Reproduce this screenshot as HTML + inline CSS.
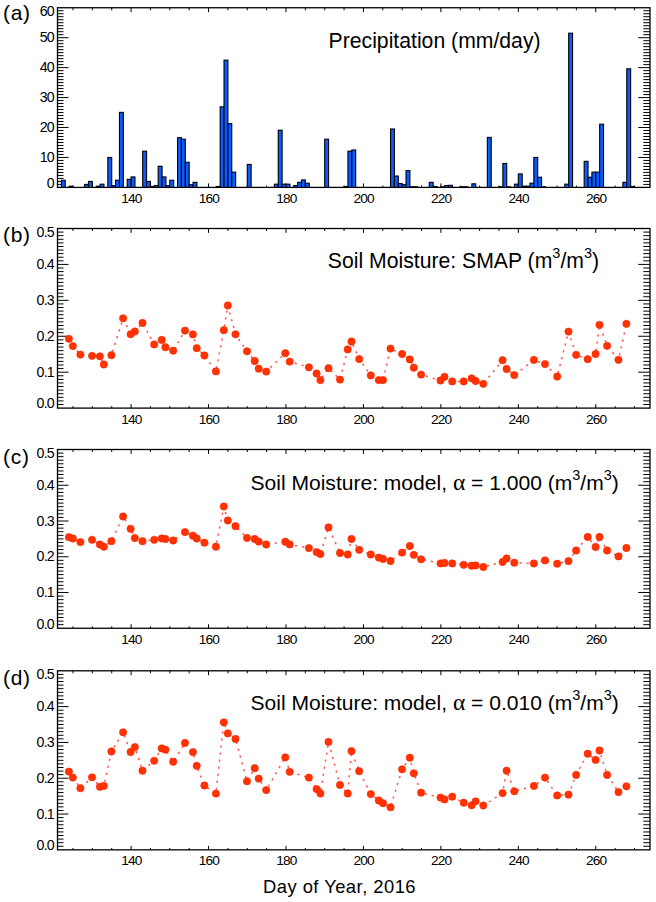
<!DOCTYPE html>
<html><head><meta charset="utf-8"><title>Precipitation and Soil Moisture</title>
<style>html,body{margin:0;padding:0;background:#fff;}svg{display:block;}text{font-family:"Liberation Sans",sans-serif;}</style>
</head><body>
<svg width="656" height="902" viewBox="0 0 656 902">
<rect width="656" height="902" fill="#fff"/>
<path d="M57.5 184.41h6M650 184.41h-6.7M57.5 181.41h6M650 181.41h-6.7M57.5 178.42h6M650 178.42h-6.7M57.5 175.42h6M650 175.42h-6.7M57.5 172.43h6M650 172.43h-6.7M57.5 169.44h6M650 169.44h-6.7M57.5 166.44h6M650 166.44h-6.7M57.5 163.45h6M650 163.45h-6.7M57.5 160.45h6M650 160.45h-6.7M57.5 157.46h11M650 157.46h-11.7M57.5 154.46h6M650 154.46h-6.7M57.5 151.47h6M650 151.47h-6.7M57.5 148.48h6M650 148.48h-6.7M57.5 145.48h6M650 145.48h-6.7M57.5 142.49h6M650 142.49h-6.7M57.5 139.49h6M650 139.49h-6.7M57.5 136.5h6M650 136.5h-6.7M57.5 133.5h6M650 133.5h-6.7M57.5 130.51h6M650 130.51h-6.7M57.5 127.52h11M650 127.52h-11.7M57.5 124.52h6M650 124.52h-6.7M57.5 121.53h6M650 121.53h-6.7M57.5 118.53h6M650 118.53h-6.7M57.5 115.54h6M650 115.54h-6.7M57.5 112.55h6M650 112.55h-6.7M57.5 109.55h6M650 109.55h-6.7M57.5 106.56h6M650 106.56h-6.7M57.5 103.56h6M650 103.56h-6.7M57.5 100.57h6M650 100.57h-6.7M57.5 97.58h11M650 97.58h-11.7M57.5 94.58h6M650 94.58h-6.7M57.5 91.59h6M650 91.59h-6.7M57.5 88.59h6M650 88.59h-6.7M57.5 85.6h6M650 85.6h-6.7M57.5 82.6h6M650 82.6h-6.7M57.5 79.61h6M650 79.61h-6.7M57.5 76.62h6M650 76.62h-6.7M57.5 73.62h6M650 73.62h-6.7M57.5 70.63h6M650 70.63h-6.7M57.5 67.63h11M650 67.63h-11.7M57.5 64.64h6M650 64.64h-6.7M57.5 61.64h6M650 61.64h-6.7M57.5 58.65h6M650 58.65h-6.7M57.5 55.66h6M650 55.66h-6.7M57.5 52.66h6M650 52.66h-6.7M57.5 49.67h6M650 49.67h-6.7M57.5 46.67h6M650 46.67h-6.7M57.5 43.68h6M650 43.68h-6.7M57.5 40.69h6M650 40.69h-6.7M57.5 37.69h11M650 37.69h-11.7M57.5 34.7h6M650 34.7h-6.7M57.5 31.7h6M650 31.7h-6.7M57.5 28.71h6M650 28.71h-6.7M57.5 25.72h6M650 25.72h-6.7M57.5 22.72h6M650 22.72h-6.7M57.5 19.73h6M650 19.73h-6.7M57.5 16.73h6M650 16.73h-6.7M57.5 13.74h6M650 13.74h-6.7M57.5 10.74h6M650 10.74h-6.7M72.99 187.4v-1.9M72.99 7.75v2.5M92.35 187.4v-1.9M92.35 7.75v2.5M111.72 187.4v-1.9M111.72 7.75v2.5M131.08 187.4v-4M131.08 7.75v4.4M150.44 187.4v-1.9M150.44 7.75v2.5M169.8 187.4v-1.9M169.8 7.75v2.5M189.17 187.4v-1.9M189.17 7.75v2.5M208.53 187.4v-4M208.53 7.75v4.4M227.89 187.4v-1.9M227.89 7.75v2.5M247.25 187.4v-1.9M247.25 7.75v2.5M266.62 187.4v-1.9M266.62 7.75v2.5M285.98 187.4v-4M285.98 7.75v4.4M305.34 187.4v-1.9M305.34 7.75v2.5M324.71 187.4v-1.9M324.71 7.75v2.5M344.07 187.4v-1.9M344.07 7.75v2.5M363.43 187.4v-4M363.43 7.75v4.4M382.79 187.4v-1.9M382.79 7.75v2.5M402.16 187.4v-1.9M402.16 7.75v2.5M421.52 187.4v-1.9M421.52 7.75v2.5M440.88 187.4v-4M440.88 7.75v4.4M460.25 187.4v-1.9M460.25 7.75v2.5M479.61 187.4v-1.9M479.61 7.75v2.5M498.97 187.4v-1.9M498.97 7.75v2.5M518.33 187.4v-4M518.33 7.75v4.4M537.7 187.4v-1.9M537.7 7.75v2.5M557.06 187.4v-1.9M557.06 7.75v2.5M576.42 187.4v-1.9M576.42 7.75v2.5M595.78 187.4v-4M595.78 7.75v4.4M615.15 187.4v-1.9M615.15 7.75v2.5M634.51 187.4v-1.9M634.51 7.75v2.5" stroke="#000" stroke-width="1.0" fill="none"/>
<rect x="57.5" y="7.75" width="592.5" height="179.65" fill="none" stroke="#000" stroke-width="1.3"/>
<path d="M57.5 404.51h6M650 404.51h-6.7M57.5 400.92h6M650 400.92h-6.7M57.5 397.32h6M650 397.32h-6.7M57.5 393.73h6M650 393.73h-6.7M57.5 390.14h6M650 390.14h-6.7M57.5 386.55h6M650 386.55h-6.7M57.5 382.96h6M650 382.96h-6.7M57.5 379.36h6M650 379.36h-6.7M57.5 375.77h6M650 375.77h-6.7M57.5 372.18h11M650 372.18h-11.7M57.5 368.59h6M650 368.59h-6.7M57.5 365h6M650 365h-6.7M57.5 361.4h6M650 361.4h-6.7M57.5 357.81h6M650 357.81h-6.7M57.5 354.22h6M650 354.22h-6.7M57.5 350.63h6M650 350.63h-6.7M57.5 347.04h6M650 347.04h-6.7M57.5 343.44h6M650 343.44h-6.7M57.5 339.85h6M650 339.85h-6.7M57.5 336.26h11M650 336.26h-11.7M57.5 332.67h6M650 332.67h-6.7M57.5 329.08h6M650 329.08h-6.7M57.5 325.48h6M650 325.48h-6.7M57.5 321.89h6M650 321.89h-6.7M57.5 318.3h6M650 318.3h-6.7M57.5 314.71h6M650 314.71h-6.7M57.5 311.12h6M650 311.12h-6.7M57.5 307.52h6M650 307.52h-6.7M57.5 303.93h6M650 303.93h-6.7M57.5 300.34h11M650 300.34h-11.7M57.5 296.75h6M650 296.75h-6.7M57.5 293.16h6M650 293.16h-6.7M57.5 289.56h6M650 289.56h-6.7M57.5 285.97h6M650 285.97h-6.7M57.5 282.38h6M650 282.38h-6.7M57.5 278.79h6M650 278.79h-6.7M57.5 275.2h6M650 275.2h-6.7M57.5 271.6h6M650 271.6h-6.7M57.5 268.01h6M650 268.01h-6.7M57.5 264.42h11M650 264.42h-11.7M57.5 260.83h6M650 260.83h-6.7M57.5 257.24h6M650 257.24h-6.7M57.5 253.64h6M650 253.64h-6.7M57.5 250.05h6M650 250.05h-6.7M57.5 246.46h6M650 246.46h-6.7M57.5 242.87h6M650 242.87h-6.7M57.5 239.28h6M650 239.28h-6.7M57.5 235.68h6M650 235.68h-6.7M57.5 232.09h6M650 232.09h-6.7M72.99 408.1v-1.9M72.99 228.5v2.5M92.35 408.1v-1.9M92.35 228.5v2.5M111.72 408.1v-1.9M111.72 228.5v2.5M131.08 408.1v-4M131.08 228.5v4.4M150.44 408.1v-1.9M150.44 228.5v2.5M169.8 408.1v-1.9M169.8 228.5v2.5M189.17 408.1v-1.9M189.17 228.5v2.5M208.53 408.1v-4M208.53 228.5v4.4M227.89 408.1v-1.9M227.89 228.5v2.5M247.25 408.1v-1.9M247.25 228.5v2.5M266.62 408.1v-1.9M266.62 228.5v2.5M285.98 408.1v-4M285.98 228.5v4.4M305.34 408.1v-1.9M305.34 228.5v2.5M324.71 408.1v-1.9M324.71 228.5v2.5M344.07 408.1v-1.9M344.07 228.5v2.5M363.43 408.1v-4M363.43 228.5v4.4M382.79 408.1v-1.9M382.79 228.5v2.5M402.16 408.1v-1.9M402.16 228.5v2.5M421.52 408.1v-1.9M421.52 228.5v2.5M440.88 408.1v-4M440.88 228.5v4.4M460.25 408.1v-1.9M460.25 228.5v2.5M479.61 408.1v-1.9M479.61 228.5v2.5M498.97 408.1v-1.9M498.97 228.5v2.5M518.33 408.1v-4M518.33 228.5v4.4M537.7 408.1v-1.9M537.7 228.5v2.5M557.06 408.1v-1.9M557.06 228.5v2.5M576.42 408.1v-1.9M576.42 228.5v2.5M595.78 408.1v-4M595.78 228.5v4.4M615.15 408.1v-1.9M615.15 228.5v2.5M634.51 408.1v-1.9M634.51 228.5v2.5" stroke="#000" stroke-width="1.0" fill="none"/>
<rect x="57.5" y="228.5" width="592.5" height="179.6" fill="none" stroke="#000" stroke-width="1.3"/>
<path d="M57.5 624.67h6M650 624.67h-6.7M57.5 621.1h6M650 621.1h-6.7M57.5 617.52h6M650 617.52h-6.7M57.5 613.95h6M650 613.95h-6.7M57.5 610.38h6M650 610.38h-6.7M57.5 606.8h6M650 606.8h-6.7M57.5 603.23h6M650 603.23h-6.7M57.5 599.65h6M650 599.65h-6.7M57.5 596.08h6M650 596.08h-6.7M57.5 592.5h11M650 592.5h-11.7M57.5 588.92h6M650 588.92h-6.7M57.5 585.35h6M650 585.35h-6.7M57.5 581.77h6M650 581.77h-6.7M57.5 578.2h6M650 578.2h-6.7M57.5 574.62h6M650 574.62h-6.7M57.5 571.05h6M650 571.05h-6.7M57.5 567.48h6M650 567.48h-6.7M57.5 563.9h6M650 563.9h-6.7M57.5 560.33h6M650 560.33h-6.7M57.5 556.75h11M650 556.75h-11.7M57.5 553.17h6M650 553.17h-6.7M57.5 549.6h6M650 549.6h-6.7M57.5 546.02h6M650 546.02h-6.7M57.5 542.45h6M650 542.45h-6.7M57.5 538.88h6M650 538.88h-6.7M57.5 535.3h6M650 535.3h-6.7M57.5 531.73h6M650 531.73h-6.7M57.5 528.15h6M650 528.15h-6.7M57.5 524.58h6M650 524.58h-6.7M57.5 521h11M650 521h-11.7M57.5 517.42h6M650 517.42h-6.7M57.5 513.85h6M650 513.85h-6.7M57.5 510.27h6M650 510.27h-6.7M57.5 506.7h6M650 506.7h-6.7M57.5 503.12h6M650 503.12h-6.7M57.5 499.55h6M650 499.55h-6.7M57.5 495.98h6M650 495.98h-6.7M57.5 492.4h6M650 492.4h-6.7M57.5 488.82h6M650 488.82h-6.7M57.5 485.25h11M650 485.25h-11.7M57.5 481.68h6M650 481.68h-6.7M57.5 478.1h6M650 478.1h-6.7M57.5 474.52h6M650 474.52h-6.7M57.5 470.95h6M650 470.95h-6.7M57.5 467.38h6M650 467.38h-6.7M57.5 463.8h6M650 463.8h-6.7M57.5 460.23h6M650 460.23h-6.7M57.5 456.65h6M650 456.65h-6.7M57.5 453.07h6M650 453.07h-6.7M72.99 628.25v-1.9M72.99 449.5v2.5M92.35 628.25v-1.9M92.35 449.5v2.5M111.72 628.25v-1.9M111.72 449.5v2.5M131.08 628.25v-4M131.08 449.5v4.4M150.44 628.25v-1.9M150.44 449.5v2.5M169.8 628.25v-1.9M169.8 449.5v2.5M189.17 628.25v-1.9M189.17 449.5v2.5M208.53 628.25v-4M208.53 449.5v4.4M227.89 628.25v-1.9M227.89 449.5v2.5M247.25 628.25v-1.9M247.25 449.5v2.5M266.62 628.25v-1.9M266.62 449.5v2.5M285.98 628.25v-4M285.98 449.5v4.4M305.34 628.25v-1.9M305.34 449.5v2.5M324.71 628.25v-1.9M324.71 449.5v2.5M344.07 628.25v-1.9M344.07 449.5v2.5M363.43 628.25v-4M363.43 449.5v4.4M382.79 628.25v-1.9M382.79 449.5v2.5M402.16 628.25v-1.9M402.16 449.5v2.5M421.52 628.25v-1.9M421.52 449.5v2.5M440.88 628.25v-4M440.88 449.5v4.4M460.25 628.25v-1.9M460.25 449.5v2.5M479.61 628.25v-1.9M479.61 449.5v2.5M498.97 628.25v-1.9M498.97 449.5v2.5M518.33 628.25v-4M518.33 449.5v4.4M537.7 628.25v-1.9M537.7 449.5v2.5M557.06 628.25v-1.9M557.06 449.5v2.5M576.42 628.25v-1.9M576.42 449.5v2.5M595.78 628.25v-4M595.78 449.5v4.4M615.15 628.25v-1.9M615.15 449.5v2.5M634.51 628.25v-1.9M634.51 449.5v2.5" stroke="#000" stroke-width="1.0" fill="none"/>
<rect x="57.5" y="449.5" width="592.5" height="178.75" fill="none" stroke="#000" stroke-width="1.3"/>
<path d="M57.5 846.27h6M650 846.27h-6.7M57.5 842.69h6M650 842.69h-6.7M57.5 839.11h6M650 839.11h-6.7M57.5 835.53h6M650 835.53h-6.7M57.5 831.95h6M650 831.95h-6.7M57.5 828.36h6M650 828.36h-6.7M57.5 824.78h6M650 824.78h-6.7M57.5 821.2h6M650 821.2h-6.7M57.5 817.62h6M650 817.62h-6.7M57.5 814.04h11M650 814.04h-11.7M57.5 810.46h6M650 810.46h-6.7M57.5 806.88h6M650 806.88h-6.7M57.5 803.3h6M650 803.3h-6.7M57.5 799.72h6M650 799.72h-6.7M57.5 796.13h6M650 796.13h-6.7M57.5 792.55h6M650 792.55h-6.7M57.5 788.97h6M650 788.97h-6.7M57.5 785.39h6M650 785.39h-6.7M57.5 781.81h6M650 781.81h-6.7M57.5 778.23h11M650 778.23h-11.7M57.5 774.65h6M650 774.65h-6.7M57.5 771.07h6M650 771.07h-6.7M57.5 767.49h6M650 767.49h-6.7M57.5 763.91h6M650 763.91h-6.7M57.5 760.33h6M650 760.33h-6.7M57.5 756.74h6M650 756.74h-6.7M57.5 753.16h6M650 753.16h-6.7M57.5 749.58h6M650 749.58h-6.7M57.5 746h6M650 746h-6.7M57.5 742.42h11M650 742.42h-11.7M57.5 738.84h6M650 738.84h-6.7M57.5 735.26h6M650 735.26h-6.7M57.5 731.68h6M650 731.68h-6.7M57.5 728.1h6M650 728.1h-6.7M57.5 724.51h6M650 724.51h-6.7M57.5 720.93h6M650 720.93h-6.7M57.5 717.35h6M650 717.35h-6.7M57.5 713.77h6M650 713.77h-6.7M57.5 710.19h6M650 710.19h-6.7M57.5 706.61h11M650 706.61h-11.7M57.5 703.03h6M650 703.03h-6.7M57.5 699.45h6M650 699.45h-6.7M57.5 695.87h6M650 695.87h-6.7M57.5 692.29h6M650 692.29h-6.7M57.5 688.7h6M650 688.7h-6.7M57.5 685.12h6M650 685.12h-6.7M57.5 681.54h6M650 681.54h-6.7M57.5 677.96h6M650 677.96h-6.7M57.5 674.38h6M650 674.38h-6.7M72.99 849.85v-1.9M72.99 670.8v2.5M92.35 849.85v-1.9M92.35 670.8v2.5M111.72 849.85v-1.9M111.72 670.8v2.5M131.08 849.85v-4M131.08 670.8v4.4M150.44 849.85v-1.9M150.44 670.8v2.5M169.8 849.85v-1.9M169.8 670.8v2.5M189.17 849.85v-1.9M189.17 670.8v2.5M208.53 849.85v-4M208.53 670.8v4.4M227.89 849.85v-1.9M227.89 670.8v2.5M247.25 849.85v-1.9M247.25 670.8v2.5M266.62 849.85v-1.9M266.62 670.8v2.5M285.98 849.85v-4M285.98 670.8v4.4M305.34 849.85v-1.9M305.34 670.8v2.5M324.71 849.85v-1.9M324.71 670.8v2.5M344.07 849.85v-1.9M344.07 670.8v2.5M363.43 849.85v-4M363.43 670.8v4.4M382.79 849.85v-1.9M382.79 670.8v2.5M402.16 849.85v-1.9M402.16 670.8v2.5M421.52 849.85v-1.9M421.52 670.8v2.5M440.88 849.85v-4M440.88 670.8v4.4M460.25 849.85v-1.9M460.25 670.8v2.5M479.61 849.85v-1.9M479.61 670.8v2.5M498.97 849.85v-1.9M498.97 670.8v2.5M518.33 849.85v-4M518.33 670.8v4.4M537.7 849.85v-1.9M537.7 670.8v2.5M557.06 849.85v-1.9M557.06 670.8v2.5M576.42 849.85v-1.9M576.42 670.8v2.5M595.78 849.85v-4M595.78 670.8v4.4M615.15 849.85v-1.9M615.15 670.8v2.5M634.51 849.85v-1.9M634.51 670.8v2.5" stroke="#000" stroke-width="1.0" fill="none"/>
<rect x="57.5" y="670.8" width="592.5" height="179.05" fill="none" stroke="#000" stroke-width="1.3"/>
<g fill="#0a5cff" stroke="#000" stroke-width="1.1"><rect x="61.37" y="180.21" width="3.87" height="7.19"/><rect x="69.12" y="186.2" width="3.87" height="1.2"/><rect x="84.61" y="184.41" width="3.87" height="2.99"/><rect x="88.48" y="181.41" width="3.87" height="5.99"/><rect x="96.23" y="186.2" width="3.87" height="1.2"/><rect x="100.1" y="184.2" width="3.87" height="3.2"/><rect x="107.84" y="157.46" width="3.87" height="29.94"/><rect x="111.72" y="185.6" width="3.87" height="1.8"/><rect x="115.59" y="180.21" width="3.87" height="7.19"/><rect x="119.46" y="112.4" width="3.87" height="75"/><rect x="127.21" y="179.32" width="3.87" height="8.08"/><rect x="131.08" y="176.92" width="3.87" height="10.48"/><rect x="142.7" y="151.17" width="3.87" height="36.23"/><rect x="146.57" y="181.41" width="3.87" height="5.99"/><rect x="150.44" y="186.5" width="3.87" height="0.9"/><rect x="154.31" y="185.6" width="3.87" height="1.8"/><rect x="158.19" y="166.26" width="3.87" height="21.14"/><rect x="162.06" y="176.92" width="3.87" height="10.48"/><rect x="165.93" y="185.6" width="3.87" height="1.8"/><rect x="169.8" y="180.21" width="3.87" height="7.19"/><rect x="177.55" y="137.7" width="3.87" height="49.7"/><rect x="181.42" y="139.19" width="3.87" height="48.21"/><rect x="185.29" y="162.25" width="3.87" height="25.15"/><rect x="189.17" y="184.71" width="3.87" height="2.69"/><rect x="193.04" y="182.31" width="3.87" height="5.09"/><rect x="216.27" y="186.5" width="3.87" height="0.9"/><rect x="220.15" y="106.86" width="3.87" height="80.54"/><rect x="224.02" y="60.15" width="3.87" height="127.25"/><rect x="227.89" y="123.62" width="3.87" height="63.78"/><rect x="231.76" y="172.13" width="3.87" height="15.27"/><rect x="247.25" y="164.46" width="3.87" height="22.94"/><rect x="274.36" y="184.2" width="3.87" height="3.2"/><rect x="278.24" y="130.21" width="3.87" height="57.19"/><rect x="282.11" y="184.2" width="3.87" height="3.2"/><rect x="285.98" y="184.2" width="3.87" height="3.2"/><rect x="293.73" y="185.6" width="3.87" height="1.8"/><rect x="297.6" y="182.31" width="3.87" height="5.09"/><rect x="301.47" y="179.91" width="3.87" height="7.49"/><rect x="305.34" y="183.21" width="3.87" height="4.19"/><rect x="324.71" y="139.19" width="3.87" height="48.21"/><rect x="344.07" y="186.5" width="3.87" height="0.9"/><rect x="347.94" y="151.17" width="3.87" height="36.23"/><rect x="351.81" y="149.97" width="3.87" height="37.43"/><rect x="390.54" y="129.01" width="3.87" height="58.39"/><rect x="394.41" y="176.02" width="3.87" height="11.38"/><rect x="398.28" y="183.51" width="3.87" height="3.89"/><rect x="402.16" y="184.71" width="3.87" height="2.69"/><rect x="406.03" y="170.63" width="3.87" height="16.77"/><rect x="409.9" y="186.8" width="3.87" height="0.6"/><rect x="413.77" y="186.8" width="3.87" height="0.6"/><rect x="429.26" y="182.31" width="3.87" height="5.09"/><rect x="433.14" y="186.5" width="3.87" height="0.9"/><rect x="440.88" y="186.8" width="3.87" height="0.6"/><rect x="444.75" y="185.6" width="3.87" height="1.8"/><rect x="448.63" y="185.3" width="3.87" height="2.1"/><rect x="460.25" y="186.8" width="3.87" height="0.6"/><rect x="464.12" y="186.8" width="3.87" height="0.6"/><rect x="471.86" y="183.81" width="3.87" height="3.59"/><rect x="487.35" y="137.4" width="3.87" height="50"/><rect x="498.97" y="186.8" width="3.87" height="0.6"/><rect x="502.84" y="163.45" width="3.87" height="23.95"/><rect x="506.72" y="186.8" width="3.87" height="0.6"/><rect x="514.46" y="184.2" width="3.87" height="3.2"/><rect x="518.33" y="173.93" width="3.87" height="13.47"/><rect x="522.21" y="186.2" width="3.87" height="1.2"/><rect x="526.08" y="186.2" width="3.87" height="1.2"/><rect x="529.95" y="183.21" width="3.87" height="4.19"/><rect x="533.82" y="157.46" width="3.87" height="29.94"/><rect x="537.7" y="177.22" width="3.87" height="10.18"/><rect x="541.57" y="186.8" width="3.87" height="0.6"/><rect x="564.8" y="184.2" width="3.87" height="3.2"/><rect x="568.68" y="33.2" width="3.87" height="154.2"/><rect x="584.17" y="161.35" width="3.87" height="26.05"/><rect x="588.04" y="177.22" width="3.87" height="10.18"/><rect x="591.91" y="172.13" width="3.87" height="15.27"/><rect x="595.78" y="172.13" width="3.87" height="15.27"/><rect x="599.66" y="124.22" width="3.87" height="63.18"/><rect x="622.89" y="182.31" width="3.87" height="5.09"/><rect x="626.76" y="68.83" width="3.87" height="118.57"/><rect x="630.64" y="186.5" width="3.87" height="0.9"/></g>
<g fill="#ff3300" stroke="#ff2000" stroke-width="0.6"><polyline points="68.9,338.85 72.85,346.1 80.4,354.6 92.05,355.85 99.9,356.35 103.85,364.5 111.4,355.2 123.1,318.3 130.6,334.2 134.85,331.5 142.5,322.9 154.2,344.4 161.7,339.9 165.4,347.2 173.2,350.7 185,330.6 192.9,334.4 196.7,348.2 204.4,355.5 215.9,371.4 223.8,330.2 227.8,305.5 235.5,334.3 247,351.3 254.7,361 258.7,368.7 266.2,371.6 285.3,353.2 289.7,361.6 308.9,367.3 316.6,373.5 320.4,380.1 328.5,368.2 340,379.6 347.7,349.4 351.5,341.5 359.2,359.1 370.8,375.4 378.8,380.1 383,380.1 390.5,348.6 402.1,354 409.8,359.4 413.8,367.7 421.1,374.6 440.5,380.5 444.5,376.8 452.2,381.4 463.7,381.4 471.6,378.3 475.6,381 483.3,383.8 502.6,360.2 506.6,369 514.3,375.1 533.9,359.9 545,364.1 557.2,376.5 568.5,331.6 576.1,354.8 587.7,359.2 595.6,354 599.5,324.8 607.1,345.8 618.5,359.8 626.4,323.8" fill="none" stroke="#ff3a30" stroke-width="1.5" stroke-dasharray="2.2 4.9" stroke-opacity="0.85"/><circle cx="68.9" cy="338.85" r="3.65"/><circle cx="72.85" cy="346.1" r="3.65"/><circle cx="80.4" cy="354.6" r="3.65"/><circle cx="92.05" cy="355.85" r="3.65"/><circle cx="99.9" cy="356.35" r="3.65"/><circle cx="103.85" cy="364.5" r="3.65"/><circle cx="111.4" cy="355.2" r="3.65"/><circle cx="123.1" cy="318.3" r="3.65"/><circle cx="130.6" cy="334.2" r="3.65"/><circle cx="134.85" cy="331.5" r="3.65"/><circle cx="142.5" cy="322.9" r="3.65"/><circle cx="154.2" cy="344.4" r="3.65"/><circle cx="161.7" cy="339.9" r="3.65"/><circle cx="165.4" cy="347.2" r="3.65"/><circle cx="173.2" cy="350.7" r="3.65"/><circle cx="185" cy="330.6" r="3.65"/><circle cx="192.9" cy="334.4" r="3.65"/><circle cx="196.7" cy="348.2" r="3.65"/><circle cx="204.4" cy="355.5" r="3.65"/><circle cx="215.9" cy="371.4" r="3.65"/><circle cx="223.8" cy="330.2" r="3.65"/><circle cx="227.8" cy="305.5" r="3.65"/><circle cx="235.5" cy="334.3" r="3.65"/><circle cx="247" cy="351.3" r="3.65"/><circle cx="254.7" cy="361" r="3.65"/><circle cx="258.7" cy="368.7" r="3.65"/><circle cx="266.2" cy="371.6" r="3.65"/><circle cx="285.3" cy="353.2" r="3.65"/><circle cx="289.7" cy="361.6" r="3.65"/><circle cx="308.9" cy="367.3" r="3.65"/><circle cx="316.6" cy="373.5" r="3.65"/><circle cx="320.4" cy="380.1" r="3.65"/><circle cx="328.5" cy="368.2" r="3.65"/><circle cx="340" cy="379.6" r="3.65"/><circle cx="347.7" cy="349.4" r="3.65"/><circle cx="351.5" cy="341.5" r="3.65"/><circle cx="359.2" cy="359.1" r="3.65"/><circle cx="370.8" cy="375.4" r="3.65"/><circle cx="378.8" cy="380.1" r="3.65"/><circle cx="383" cy="380.1" r="3.65"/><circle cx="390.5" cy="348.6" r="3.65"/><circle cx="402.1" cy="354" r="3.65"/><circle cx="409.8" cy="359.4" r="3.65"/><circle cx="413.8" cy="367.7" r="3.65"/><circle cx="421.1" cy="374.6" r="3.65"/><circle cx="440.5" cy="380.5" r="3.65"/><circle cx="444.5" cy="376.8" r="3.65"/><circle cx="452.2" cy="381.4" r="3.65"/><circle cx="463.7" cy="381.4" r="3.65"/><circle cx="471.6" cy="378.3" r="3.65"/><circle cx="475.6" cy="381" r="3.65"/><circle cx="483.3" cy="383.8" r="3.65"/><circle cx="502.6" cy="360.2" r="3.65"/><circle cx="506.6" cy="369" r="3.65"/><circle cx="514.3" cy="375.1" r="3.65"/><circle cx="533.9" cy="359.9" r="3.65"/><circle cx="545" cy="364.1" r="3.65"/><circle cx="557.2" cy="376.5" r="3.65"/><circle cx="568.5" cy="331.6" r="3.65"/><circle cx="576.1" cy="354.8" r="3.65"/><circle cx="587.7" cy="359.2" r="3.65"/><circle cx="595.6" cy="354" r="3.65"/><circle cx="599.5" cy="324.8" r="3.65"/><circle cx="607.1" cy="345.8" r="3.65"/><circle cx="618.5" cy="359.8" r="3.65"/><circle cx="626.4" cy="323.8" r="3.65"/></g>
<g fill="#ff3300" stroke="#ff2000" stroke-width="0.6"><polyline points="68.9,537.2 72.85,538.5 80.4,542.1 92.05,539.8 99.9,544.5 103.85,546.7 111.4,541.2 123.1,516.5 130.6,528.8 134.85,538.1 142.5,541.2 154.2,539.8 161.7,538.5 165.4,539 173.2,540.5 185,532.1 192.9,535.7 196.7,538.5 204.4,542.7 215.9,546.7 223.8,506.5 227.8,520.5 235.5,526.2 247,537.9 254.7,539 258.7,541.6 266.2,544.5 285.3,541.75 289.7,544.4 308.9,548.1 316.6,552.1 320.4,554 328.5,527.4 340,553 347.7,554.5 351.5,539 359.2,549.8 370.8,554.5 378.8,557.6 383,558.9 390.5,561 402.1,552.6 409.8,546 413.8,554.8 421.1,559.3 440.5,563.4 444.5,563 452.2,563.4 463.7,564.8 471.6,565.7 475.6,565.4 483.3,567 502.6,562 506.6,558.5 514.3,562.7 533.9,563.5 545,560.4 557.2,563.7 568.5,561.1 576.1,550.5 587.7,537 595.6,547 599.5,537 607.1,550.5 618.5,556.4 626.4,548" fill="none" stroke="#ff3a30" stroke-width="1.5" stroke-dasharray="2.2 4.9" stroke-opacity="0.85"/><circle cx="68.9" cy="537.2" r="3.65"/><circle cx="72.85" cy="538.5" r="3.65"/><circle cx="80.4" cy="542.1" r="3.65"/><circle cx="92.05" cy="539.8" r="3.65"/><circle cx="99.9" cy="544.5" r="3.65"/><circle cx="103.85" cy="546.7" r="3.65"/><circle cx="111.4" cy="541.2" r="3.65"/><circle cx="123.1" cy="516.5" r="3.65"/><circle cx="130.6" cy="528.8" r="3.65"/><circle cx="134.85" cy="538.1" r="3.65"/><circle cx="142.5" cy="541.2" r="3.65"/><circle cx="154.2" cy="539.8" r="3.65"/><circle cx="161.7" cy="538.5" r="3.65"/><circle cx="165.4" cy="539" r="3.65"/><circle cx="173.2" cy="540.5" r="3.65"/><circle cx="185" cy="532.1" r="3.65"/><circle cx="192.9" cy="535.7" r="3.65"/><circle cx="196.7" cy="538.5" r="3.65"/><circle cx="204.4" cy="542.7" r="3.65"/><circle cx="215.9" cy="546.7" r="3.65"/><circle cx="223.8" cy="506.5" r="3.65"/><circle cx="227.8" cy="520.5" r="3.65"/><circle cx="235.5" cy="526.2" r="3.65"/><circle cx="247" cy="537.9" r="3.65"/><circle cx="254.7" cy="539" r="3.65"/><circle cx="258.7" cy="541.6" r="3.65"/><circle cx="266.2" cy="544.5" r="3.65"/><circle cx="285.3" cy="541.75" r="3.65"/><circle cx="289.7" cy="544.4" r="3.65"/><circle cx="308.9" cy="548.1" r="3.65"/><circle cx="316.6" cy="552.1" r="3.65"/><circle cx="320.4" cy="554" r="3.65"/><circle cx="328.5" cy="527.4" r="3.65"/><circle cx="340" cy="553" r="3.65"/><circle cx="347.7" cy="554.5" r="3.65"/><circle cx="351.5" cy="539" r="3.65"/><circle cx="359.2" cy="549.8" r="3.65"/><circle cx="370.8" cy="554.5" r="3.65"/><circle cx="378.8" cy="557.6" r="3.65"/><circle cx="383" cy="558.9" r="3.65"/><circle cx="390.5" cy="561" r="3.65"/><circle cx="402.1" cy="552.6" r="3.65"/><circle cx="409.8" cy="546" r="3.65"/><circle cx="413.8" cy="554.8" r="3.65"/><circle cx="421.1" cy="559.3" r="3.65"/><circle cx="440.5" cy="563.4" r="3.65"/><circle cx="444.5" cy="563" r="3.65"/><circle cx="452.2" cy="563.4" r="3.65"/><circle cx="463.7" cy="564.8" r="3.65"/><circle cx="471.6" cy="565.7" r="3.65"/><circle cx="475.6" cy="565.4" r="3.65"/><circle cx="483.3" cy="567" r="3.65"/><circle cx="502.6" cy="562" r="3.65"/><circle cx="506.6" cy="558.5" r="3.65"/><circle cx="514.3" cy="562.7" r="3.65"/><circle cx="533.9" cy="563.5" r="3.65"/><circle cx="545" cy="560.4" r="3.65"/><circle cx="557.2" cy="563.7" r="3.65"/><circle cx="568.5" cy="561.1" r="3.65"/><circle cx="576.1" cy="550.5" r="3.65"/><circle cx="587.7" cy="537" r="3.65"/><circle cx="595.6" cy="547" r="3.65"/><circle cx="599.5" cy="537" r="3.65"/><circle cx="607.1" cy="550.5" r="3.65"/><circle cx="618.5" cy="556.4" r="3.65"/><circle cx="626.4" cy="548" r="3.65"/></g>
<g fill="#ff3300" stroke="#ff2000" stroke-width="0.6"><polyline points="68.9,771.6 72.85,777.6 80.4,788.2 92.05,777.3 99.9,786.8 103.85,785.9 111.4,751.5 123.1,732.3 130.6,752 134.85,747.1 142.5,770.7 154.2,760.8 161.7,748.4 165.4,749.65 173.2,761.75 185,742.9 192.9,752.1 196.7,765.8 204.4,785.5 215.9,793.6 223.8,722.3 227.8,733.4 235.5,738.9 247,781.3 254.7,768.2 258.7,778.6 266.2,790.1 285.3,757.35 289.7,771.8 308.9,777.6 316.6,789.1 320.4,793.5 328.5,741.9 340,784.9 347.7,793.5 351.5,751.1 359.2,771.2 370.8,794.1 378.8,800.5 383,803.2 390.5,807.3 402.1,769.3 409.8,757.7 413.8,773.3 421.1,792.7 440.5,797.6 444.5,799.4 452.2,796.7 463.7,802.7 471.6,805.3 475.6,801.3 483.3,805.5 502.6,793.1 506.6,770.7 514.3,791.3 533.9,785.9 545,777.6 557.2,795.45 568.5,794.65 576.1,774.9 587.7,753.65 595.6,759.9 599.5,750.5 607.1,774.9 618.5,792.1 626.4,786.3" fill="none" stroke="#ff3a30" stroke-width="1.5" stroke-dasharray="2.2 4.9" stroke-opacity="0.85"/><circle cx="68.9" cy="771.6" r="3.65"/><circle cx="72.85" cy="777.6" r="3.65"/><circle cx="80.4" cy="788.2" r="3.65"/><circle cx="92.05" cy="777.3" r="3.65"/><circle cx="99.9" cy="786.8" r="3.65"/><circle cx="103.85" cy="785.9" r="3.65"/><circle cx="111.4" cy="751.5" r="3.65"/><circle cx="123.1" cy="732.3" r="3.65"/><circle cx="130.6" cy="752" r="3.65"/><circle cx="134.85" cy="747.1" r="3.65"/><circle cx="142.5" cy="770.7" r="3.65"/><circle cx="154.2" cy="760.8" r="3.65"/><circle cx="161.7" cy="748.4" r="3.65"/><circle cx="165.4" cy="749.65" r="3.65"/><circle cx="173.2" cy="761.75" r="3.65"/><circle cx="185" cy="742.9" r="3.65"/><circle cx="192.9" cy="752.1" r="3.65"/><circle cx="196.7" cy="765.8" r="3.65"/><circle cx="204.4" cy="785.5" r="3.65"/><circle cx="215.9" cy="793.6" r="3.65"/><circle cx="223.8" cy="722.3" r="3.65"/><circle cx="227.8" cy="733.4" r="3.65"/><circle cx="235.5" cy="738.9" r="3.65"/><circle cx="247" cy="781.3" r="3.65"/><circle cx="254.7" cy="768.2" r="3.65"/><circle cx="258.7" cy="778.6" r="3.65"/><circle cx="266.2" cy="790.1" r="3.65"/><circle cx="285.3" cy="757.35" r="3.65"/><circle cx="289.7" cy="771.8" r="3.65"/><circle cx="308.9" cy="777.6" r="3.65"/><circle cx="316.6" cy="789.1" r="3.65"/><circle cx="320.4" cy="793.5" r="3.65"/><circle cx="328.5" cy="741.9" r="3.65"/><circle cx="340" cy="784.9" r="3.65"/><circle cx="347.7" cy="793.5" r="3.65"/><circle cx="351.5" cy="751.1" r="3.65"/><circle cx="359.2" cy="771.2" r="3.65"/><circle cx="370.8" cy="794.1" r="3.65"/><circle cx="378.8" cy="800.5" r="3.65"/><circle cx="383" cy="803.2" r="3.65"/><circle cx="390.5" cy="807.3" r="3.65"/><circle cx="402.1" cy="769.3" r="3.65"/><circle cx="409.8" cy="757.7" r="3.65"/><circle cx="413.8" cy="773.3" r="3.65"/><circle cx="421.1" cy="792.7" r="3.65"/><circle cx="440.5" cy="797.6" r="3.65"/><circle cx="444.5" cy="799.4" r="3.65"/><circle cx="452.2" cy="796.7" r="3.65"/><circle cx="463.7" cy="802.7" r="3.65"/><circle cx="471.6" cy="805.3" r="3.65"/><circle cx="475.6" cy="801.3" r="3.65"/><circle cx="483.3" cy="805.5" r="3.65"/><circle cx="502.6" cy="793.1" r="3.65"/><circle cx="506.6" cy="770.7" r="3.65"/><circle cx="514.3" cy="791.3" r="3.65"/><circle cx="533.9" cy="785.9" r="3.65"/><circle cx="545" cy="777.6" r="3.65"/><circle cx="557.2" cy="795.45" r="3.65"/><circle cx="568.5" cy="794.65" r="3.65"/><circle cx="576.1" cy="774.9" r="3.65"/><circle cx="587.7" cy="753.65" r="3.65"/><circle cx="595.6" cy="759.9" r="3.65"/><circle cx="599.5" cy="750.5" r="3.65"/><circle cx="607.1" cy="774.9" r="3.65"/><circle cx="618.5" cy="792.1" r="3.65"/><circle cx="626.4" cy="786.3" r="3.65"/></g>
<g font-family="Liberation Sans, sans-serif" font-size="14.2" letter-spacing="-0.85" fill="#000">
<text x="53.8" y="187.7" text-anchor="end">0</text>
<text x="53.8" y="162.11" text-anchor="end">10</text>
<text x="53.8" y="132.17" text-anchor="end">20</text>
<text x="53.8" y="102.23" text-anchor="end">30</text>
<text x="53.8" y="72.28" text-anchor="end">40</text>
<text x="53.8" y="42.34" text-anchor="end">50</text>
<text x="53.8" y="15.85" text-anchor="end">60</text>
<text x="53.8" y="408.4" text-anchor="end">0.0</text>
<text x="53.8" y="376.83" text-anchor="end">0.1</text>
<text x="53.8" y="340.91" text-anchor="end">0.2</text>
<text x="53.8" y="304.99" text-anchor="end">0.3</text>
<text x="53.8" y="269.07" text-anchor="end">0.4</text>
<text x="53.8" y="236.6" text-anchor="end">0.5</text>
<text x="53.8" y="628.55" text-anchor="end">0.0</text>
<text x="53.8" y="597.15" text-anchor="end">0.1</text>
<text x="53.8" y="561.4" text-anchor="end">0.2</text>
<text x="53.8" y="525.65" text-anchor="end">0.3</text>
<text x="53.8" y="489.9" text-anchor="end">0.4</text>
<text x="53.8" y="457.6" text-anchor="end">0.5</text>
<text x="53.8" y="850.15" text-anchor="end">0.0</text>
<text x="53.8" y="818.69" text-anchor="end">0.1</text>
<text x="53.8" y="782.88" text-anchor="end">0.2</text>
<text x="53.8" y="747.07" text-anchor="end">0.3</text>
<text x="53.8" y="711.26" text-anchor="end">0.4</text>
<text x="53.8" y="678.9" text-anchor="end">0.5</text>
<text x="131.38" y="203" text-anchor="middle" font-size="13.7">140</text>
<text x="208.83" y="203" text-anchor="middle" font-size="13.7">160</text>
<text x="286.28" y="203" text-anchor="middle" font-size="13.7">180</text>
<text x="363.73" y="203" text-anchor="middle" font-size="13.7">200</text>
<text x="441.18" y="203" text-anchor="middle" font-size="13.7">220</text>
<text x="518.63" y="203" text-anchor="middle" font-size="13.7">240</text>
<text x="596.08" y="203" text-anchor="middle" font-size="13.7">260</text>
<text x="131.38" y="423.7" text-anchor="middle" font-size="13.7">140</text>
<text x="208.83" y="423.7" text-anchor="middle" font-size="13.7">160</text>
<text x="286.28" y="423.7" text-anchor="middle" font-size="13.7">180</text>
<text x="363.73" y="423.7" text-anchor="middle" font-size="13.7">200</text>
<text x="441.18" y="423.7" text-anchor="middle" font-size="13.7">220</text>
<text x="518.63" y="423.7" text-anchor="middle" font-size="13.7">240</text>
<text x="596.08" y="423.7" text-anchor="middle" font-size="13.7">260</text>
<text x="131.38" y="643.85" text-anchor="middle" font-size="13.7">140</text>
<text x="208.83" y="643.85" text-anchor="middle" font-size="13.7">160</text>
<text x="286.28" y="643.85" text-anchor="middle" font-size="13.7">180</text>
<text x="363.73" y="643.85" text-anchor="middle" font-size="13.7">200</text>
<text x="441.18" y="643.85" text-anchor="middle" font-size="13.7">220</text>
<text x="518.63" y="643.85" text-anchor="middle" font-size="13.7">240</text>
<text x="596.08" y="643.85" text-anchor="middle" font-size="13.7">260</text>
<text x="131.38" y="865.45" text-anchor="middle" font-size="13.7">140</text>
<text x="208.83" y="865.45" text-anchor="middle" font-size="13.7">160</text>
<text x="286.28" y="865.45" text-anchor="middle" font-size="13.7">180</text>
<text x="363.73" y="865.45" text-anchor="middle" font-size="13.7">200</text>
<text x="441.18" y="865.45" text-anchor="middle" font-size="13.7">220</text>
<text x="518.63" y="865.45" text-anchor="middle" font-size="13.7">240</text>
<text x="596.08" y="865.45" text-anchor="middle" font-size="13.7">260</text>
</g>
<g font-family="Liberation Sans, sans-serif" font-size="21" letter-spacing="0.75" fill="#000">
<text x="2.9" y="19.9">(a)</text>
<text x="2.9" y="242.4">(b)</text>
<text x="2.9" y="463.5">(c)</text>
<text x="2.9" y="684.7">(d)</text>
</g>
<g font-family="Liberation Sans, sans-serif" font-size="21.2" fill="#000">
<text x="328.6" y="47.6">Precipitation (mm/day)</text>
<text x="327.8" y="268.2">Soil Moisture: SMAP (m<tspan font-size="14.5" dy="-10">3</tspan><tspan dy="10">/m</tspan><tspan font-size="14.5" dy="-10">3</tspan><tspan dy="10">)</tspan></text>
<text x="250.5" y="489.8" font-size="21.05">Soil Moisture: model, <tspan font-family="Liberation Serif, serif" font-size="23.5">α</tspan> = 1.000 (m<tspan font-size="14.5" dy="-10">3</tspan><tspan dy="10">/m</tspan><tspan font-size="14.5" dy="-10">3</tspan><tspan dy="10">)</tspan></text>
<text x="250.5" y="709.8" font-size="21.05">Soil Moisture: model, <tspan font-family="Liberation Serif, serif" font-size="23.5">α</tspan> = 0.010 (m<tspan font-size="14.5" dy="-10">3</tspan><tspan dy="10">/m</tspan><tspan font-size="14.5" dy="-10">3</tspan><tspan dy="10">)</tspan></text>
</g>
<text font-family="Liberation Sans, sans-serif" font-size="18.4" x="263" y="892.7" letter-spacing="0.46" fill="#000">Day of Year, 2016</text>
</svg>
</body></html>
